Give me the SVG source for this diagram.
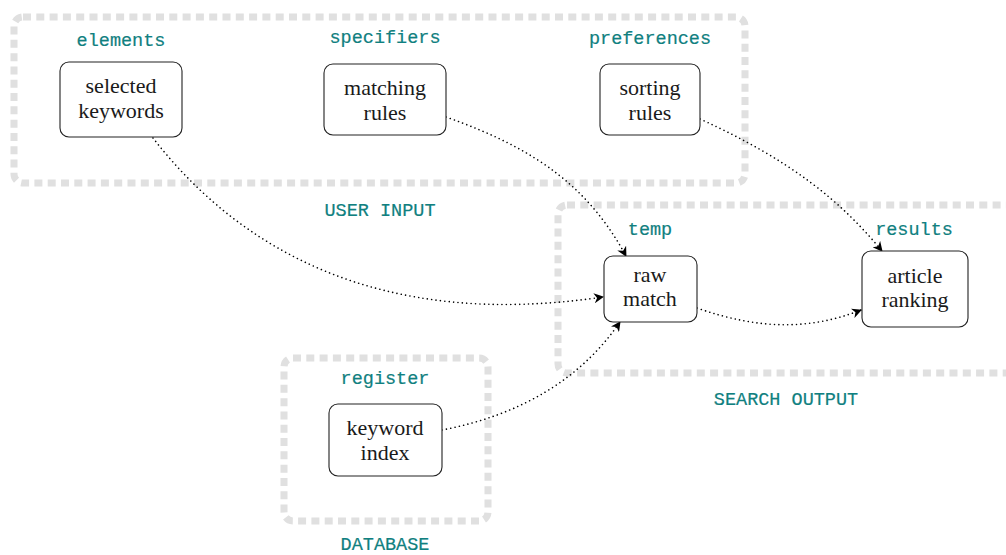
<svg xmlns="http://www.w3.org/2000/svg" width="1006" height="555" viewBox="0 0 1006 555">
<style>
.grp{fill:none;stroke:#e0e0e0;stroke-width:7;stroke-dasharray:8 5.3}
.node rect{fill:#fff;stroke:#222;stroke-width:1.1}
.node .t{font-family:"Liberation Serif","DejaVu Serif",serif;font-size:22px;fill:#1a1a1a;text-anchor:middle}
.node .lbl,.lbl,.cap{font-family:"Liberation Mono","DejaVu Sans Mono",monospace;font-size:18.5px;fill:#108080;text-anchor:middle;stroke:#108080;stroke-width:0.2}
.edge{fill:none;stroke:#000;stroke-width:1.6;stroke-dasharray:0.01 4.4;stroke-linecap:round;marker-end:url(#ah)}
</style>
<defs>
<marker id="ah" viewBox="0 0 10 10" refX="9" refY="5" markerWidth="10" markerHeight="10" markerUnits="userSpaceOnUse" orient="auto">
<path d="M0,0 L10,5 L0,10 L3,5 Z" fill="#000"/>
</marker>
</defs>
<rect width="1006" height="555" fill="#fff"/>
<g id="group-user-input">
<rect class="grp" x="14" y="17" width="731" height="166" rx="9"/>
<text class="cap" x="380" y="216">USER INPUT</text>
</g>
<g id="group-search-output">
<rect class="grp" x="558" y="205" width="470" height="168" rx="9"/>
<text class="cap" x="786" y="405">SEARCH OUTPUT</text>
</g>
<g id="group-database">
<rect class="grp" x="284" y="358" width="204" height="163" rx="9"/>
<text class="cap" x="385" y="550">DATABASE</text>
</g>
<g id="edges">
<path class="edge" d="M153,138 C240,250 380,330 603,297"/>
<path class="edge" d="M446,117 C540,150 590,190 626,256"/>
<path class="edge" d="M700,119 C790,160 840,200 882,251"/>
<path class="edge" d="M697,308 C760,330 810,330 861,310"/>
<path class="edge" d="M442,430 C520,415 580,380 620,322"/>
</g>
<g id="n-selected-keywords" class="node">
<text class="lbl" x="121" y="46">elements</text>
<rect x="60" y="62" width="122" height="75" rx="9"/>
<text class="t" x="121" y="93">selected</text>
<text class="t" x="121" y="118">keywords</text>
</g>
<g id="n-matching-rules" class="node">
<text class="lbl" x="385" y="43">specifiers</text>
<rect x="324" y="64" width="122" height="71" rx="9"/>
<text class="t" x="385" y="95">matching</text>
<text class="t" x="385" y="120">rules</text>
</g>
<g id="n-sorting-rules" class="node">
<text class="lbl" x="650" y="44">preferences</text>
<rect x="600" y="64" width="100" height="71" rx="9"/>
<text class="t" x="650" y="95">sorting</text>
<text class="t" x="650" y="120">rules</text>
</g>
<g id="n-raw-match" class="node">
<text class="lbl" x="650" y="235">temp</text>
<rect x="604" y="256" width="93" height="66" rx="9"/>
<text class="t" x="650" y="282">raw</text>
<text class="t" x="650" y="306">match</text>
</g>
<g id="n-article-ranking" class="node">
<text class="lbl" x="914" y="235">results</text>
<rect x="862" y="251" width="106" height="76" rx="9"/>
<text class="t" x="915" y="283">article</text>
<text class="t" x="915" y="307">ranking</text>
</g>
<g id="n-keyword-index" class="node">
<text class="lbl" x="385" y="384">register</text>
<rect x="329" y="404" width="113" height="72" rx="9"/>
<text class="t" x="385" y="435">keyword</text>
<text class="t" x="385" y="460">index</text>
</g>
</svg>
